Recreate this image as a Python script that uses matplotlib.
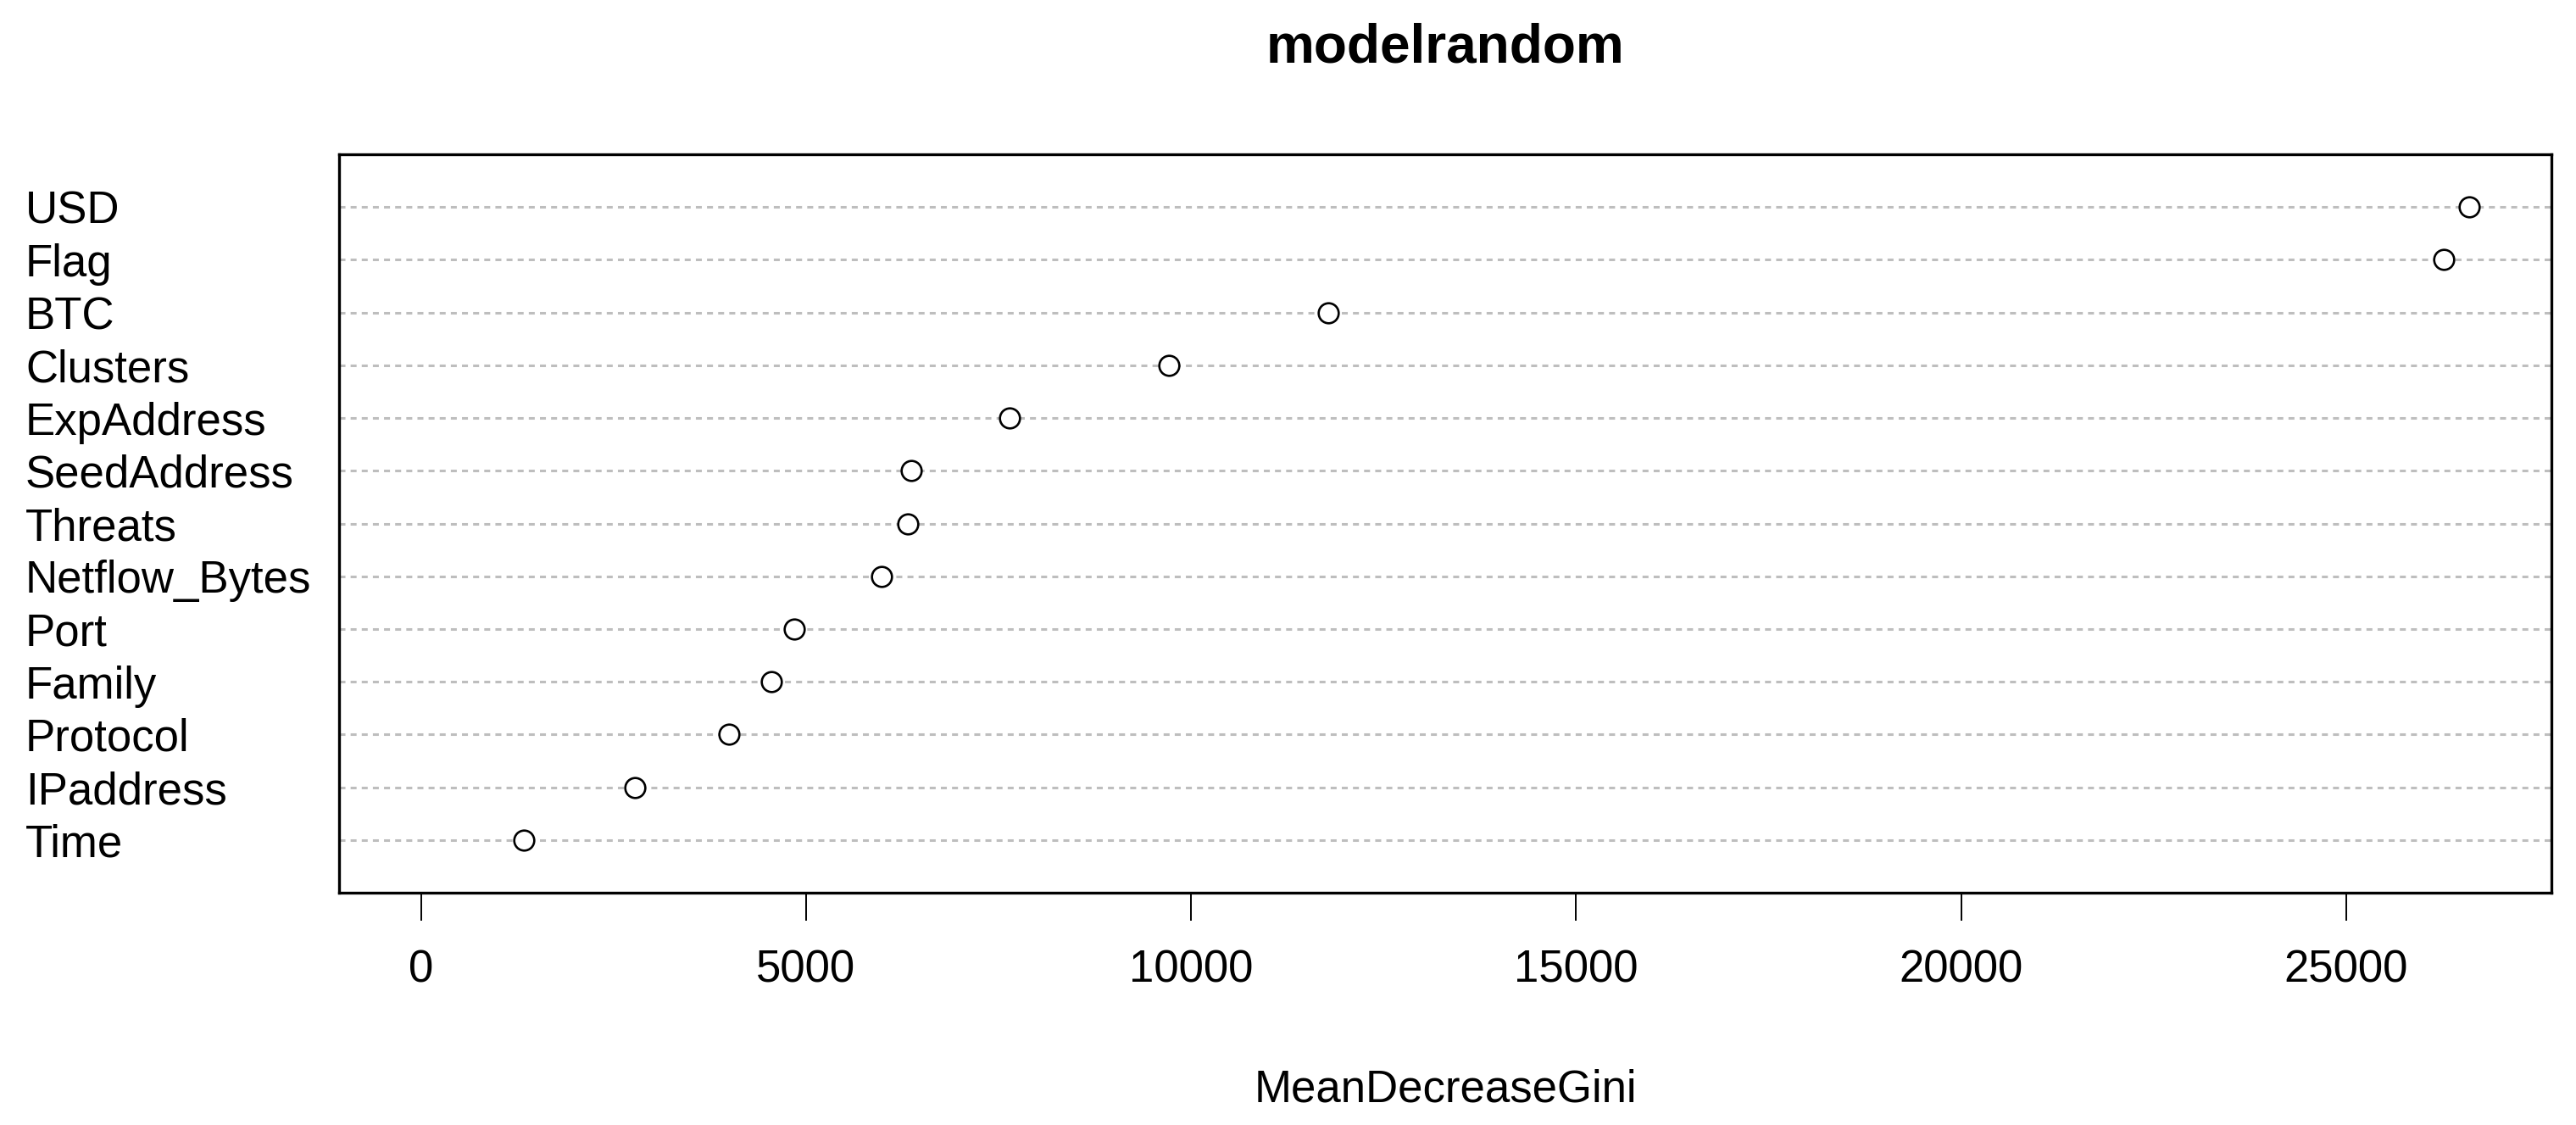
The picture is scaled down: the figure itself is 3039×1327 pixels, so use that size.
import matplotlib
matplotlib.use("Agg")
import matplotlib.pyplot as plt
import numpy as np

# variable importance (top to bottom)
FEATURES = ["USD", "Flag", "BTC", "Clusters", "ExpAddress", "SeedAddress", "Threats",
            "Netflow_Bytes", "Port", "Family", "Protocol", "IPaddress", "Time"]
GINI = [26600, 26270, 11780, 9710, 7640, 6370, 6320, 5980, 4850, 4550, 4000, 2780, 1330]
XTICKS = [0, 5000, 10000, 15000, 20000, 25000]

plt.rcParams["font.family"] = ["Liberation Sans", "DejaVu Sans"]

W, H = 3039, 1327
fig = plt.figure(figsize=(W / 100, H / 100), dpi=100)
# axes box in pixels: x 400..3010, y 182..1053
ax = fig.add_axes([400 / W, 1 - 1053 / H, (3010 - 400) / W, (1053 - 182) / H])

# dotchart draws bottom row first
ypos = np.arange(len(FEATURES), 0, -1)
for y in ypos:
    ax.axhline(y, color="#BEBEBE", lw=2.2, ls=(0, (2.3, 2.0)), zorder=1)
ax.plot(GINI, ypos, ls="none", marker="o", ms=17, mfc="white", mec="black",
        mew=1.9, zorder=3)

xmax = max(GINI)
ax.set_xlim(-0.04 * xmax, 1.04 * xmax)
ax.set_ylim(0.0, len(FEATURES) + 1)

ax.set_xticks(XTICKS)
ax.set_xticklabels([str(t) for t in XTICKS], fontsize=38)
ax.tick_params(axis="x", length=24, width=1.4, pad=24, direction="out")
ax.set_yticks(ypos)
ax.set_yticklabels(FEATURES, fontsize=38, ha="left")
ax.tick_params(axis="y", length=0, pad=(400 - 30) * 0.72)

for s in ax.spines.values():
    s.set_linewidth(2.4)

ax.set_xlabel("MeanDecreaseGini", fontsize=38, va="center")
ax.xaxis.set_label_coords(0.5, -(1285 - 1053) / (1053 - 182))
ax.set_title("modelrandom", fontsize=46, fontweight="bold", pad=78)

fig.savefig("out.png", dpi=100)
